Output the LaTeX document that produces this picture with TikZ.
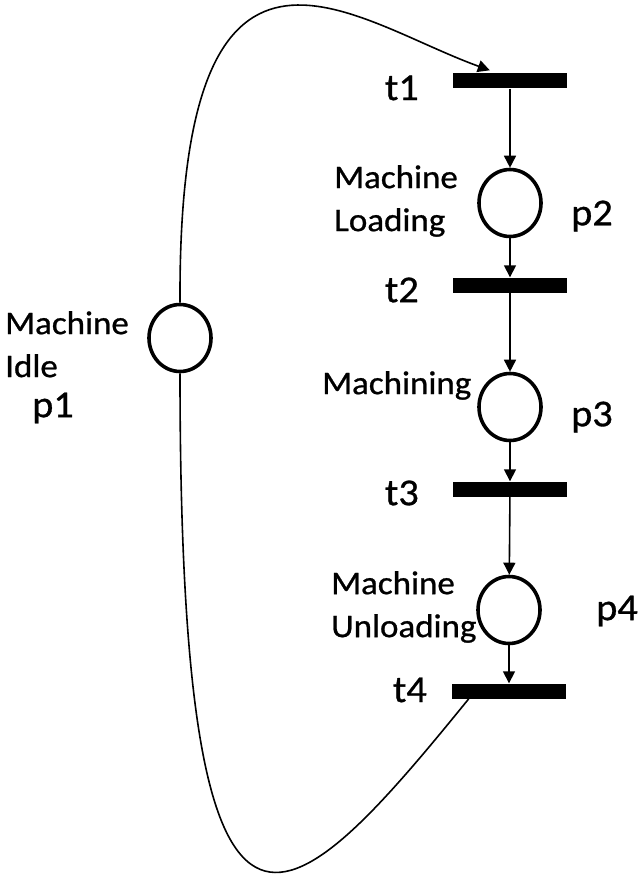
\documentclass[tikz,border=0pt]{standalone}
\usepackage{fontspec}
\setmainfont{Carlito}[FakeStretch=1.06,FakeBold=0.8]
\usetikzlibrary{arrows.meta,shapes.geometric,calc}
\begin{document}
\begin{tikzpicture}[x=1pt,y=-1pt,
 place/.style={ellipse, draw, line width=3.6pt, minimum width=62pt, minimum height=67pt, inner sep=0pt},
 trans/.style={rectangle, fill=black, minimum width=114pt, minimum height=15pt, inner sep=0pt},
 arc/.style={-{Triangle[length=12pt,width=12pt]}, line width=1.6pt},
 plain/.style={line width=1.6pt},
 lbl/.style={font=\fontsize{33}{43}\selectfont, align=left, inner sep=0pt},
 nm/.style={font=\fontsize{38}{42}\selectfont, inner sep=0pt}]
\useasboundingbox (0,0) rectangle (639,880);
% transitions and places
\node[trans] (t1) at (510,81) {};
\node[place] (p2) at (510,203) {};
\node[trans] (t2) at (510,285) {};
\node[place] (p3) at (510,407) {};
\node[trans] (t3) at (510,489) {};
\node[place] (p4) at (509,610) {};
\node[trans] (t4) at (509,691) {};
\node[place] (p1) at (180,338) {};
% connectors
\draw[arc] (t1) -- (p2);
\draw[arc] (p2) -- (t2);
\draw[arc] (t2) -- (p3);
\draw[arc] (p3) -- (t3);
\draw[arc] (t3) -- (p4);
\draw[arc] (p4) -- (t4);
\coordinate (t1in) at ($(t1.north west)+(37,-3)$);
\coordinate (t4out) at ($(t4.south west)+(17,0)$);
\draw[arc] (p1.north) .. controls (178,-125) and (350,20) .. (t1in);
\draw[plain] (p1.south) .. controls (180,1030) and (285,925) .. (t4out);
% names
\node[nm, anchor=east] (lt1) at (419,88) {t1};
\node[nm, anchor=east] (lt2) at (419,290) {t2};
\node[nm, anchor=east] (lt3) at (419,493) {t3};
\node[nm, anchor=east] (lt4) at (427,690) {t4};
\node[nm, anchor=west] (lp1) at (32,408) {p1};
\node[nm, anchor=west] (lp2) at (571,216) {p2};
\node[nm, anchor=west] (lp3) at (571,417) {p3};
\node[nm, anchor=west] (lp4) at (596,611) {p4};
% descriptive labels
\node[lbl, anchor=north west] (d1) at (5,311) {Machine\\Idle};
\node[lbl, anchor=north west] (d2) at (334,165) {Machine\\Loading};
\node[lbl, anchor=north west] (d3) at (322,371) {Machining};
\node[lbl, anchor=north west] (d4) at (331,571) {Machine\\Unloading};
\end{tikzpicture}
\end{document}
